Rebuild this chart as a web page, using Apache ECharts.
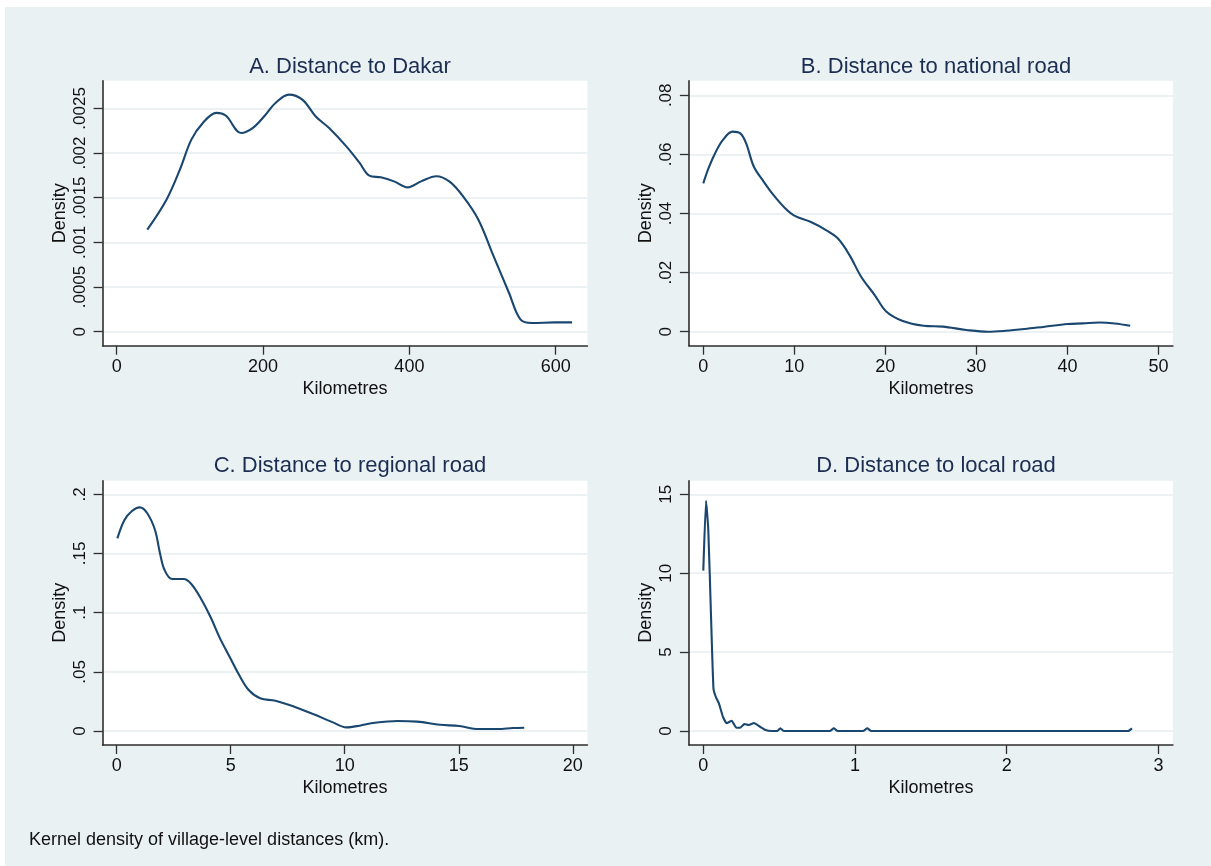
<!DOCTYPE html>
<html>
<head>
<meta charset="utf-8">
<script src="https://cdn.jsdelivr.net/npm/echarts@6/dist/echarts.min.js"></script>
<style>
  html, body { margin:0; padding:0; background:#ffffff; }
  #bg { position:absolute; left:5px; top:7px; width:1206px; height:859px; background:#EAF1F3; }
  #chart { position:absolute; left:0; top:0; width:1211px; height:866px; }
</style>
</head>
<body>
<div id="bg"></div>
<div id="chart"></div>
<script>
// ---------- Panel titles ----------
const titles = ['A. Distance to Dakar', 'B. Distance to national road', 'C. Distance to regional road', 'D. Distance to local road'];
const xAxisTitle = 'Kilometres';
const yAxisTitle = 'Density';
const caption = 'Kernel density of village-level distances (km).';

// ---------- Tick values and labels ----------
const xTicksA = [0, 200, 400, 600];
const yTicksA = [0, 0.0005, 0.001, 0.0015, 0.002, 0.0025];
const yLabelsA = ['0', '.0005', '.001', '.0015', '.002', '.0025'];
const xTicksB = [0, 10, 20, 30, 40, 50];
const yTicksB = [0, 0.02, 0.04, 0.06, 0.08];
const yLabelsB = ['0', '.02', '.04', '.06', '.08'];
const xTicksC = [0, 5, 10, 15, 20];
const yTicksC = [0, 0.05, 0.1, 0.15, 0.2];
const yLabelsC = ['0', '.05', '.1', '.15', '.2'];
const xTicksD = [0, 1, 2, 3];
const yTicksD = [0, 5, 10, 15];
const yLabelsD = ['0', '5', '10', '15'];

// ---------- Density curves ----------
const kmA = [41.8, 68, 86.3, 102, 117.7, 136, 149, 170, 185.7, 201.4, 217, 235.3, 253.7, 272, 290.3, 313.8, 332, 345.2, 361, 379, 397.6, 416, 436.8, 455, 473.4, 494.3, 515.2, 536.2, 552, 567.6, 599, 622.4];
const densA = [0.001142, 0.001478, 0.001814, 0.00215, 0.002337, 0.00245, 0.00242, 0.002225, 0.00228, 0.00241, 0.00256, 0.002654, 0.002598, 0.00241, 0.00228, 0.002075, 0.00189, 0.001747, 0.001728, 0.001683, 0.001616, 0.001683, 0.00174, 0.00168, 0.001515, 0.001254, 0.000843, 0.000433, 0.000134, 0.0000974, 0.000104, 0.000104];

const kmB = [0, 0.6, 1.3, 2.14, 3.2, 4.07, 4.7, 5.56, 6.63, 7.7, 8.99, 10.06, 11.77, 13.48, 14.77, 16.05, 17.34, 18.83, 20.1, 21.84, 24.2, 26.33, 28.9, 31.26, 33.2, 35.3, 37.5, 40.03, 41.7, 43.5, 45.2, 46.9];
const densB = [0.0502, 0.0555, 0.0604, 0.0648, 0.0677, 0.0671, 0.0638, 0.0558, 0.0508, 0.0463, 0.0418, 0.0392, 0.0372, 0.0344, 0.0316, 0.026, 0.0186, 0.0124, 0.0068, 0.0037, 0.002, 0.0017, 0.0006, 0.0, 0.0003, 0.0009, 0.0017, 0.0026, 0.0028, 0.0031, 0.0028, 0.002];

const kmC = [0.03, 0.34, 0.67, 1.01, 1.34, 1.68, 1.9, 2.1, 2.43, 2.94, 3.27, 3.69, 4.11, 4.53, 4.95, 5.37, 5.79, 6.29, 6.96, 7.79, 8.64, 9.48, 10.07, 10.65, 11.32, 12.33, 13.17, 14.18, 15.02, 15.86, 16.7, 17.37, 17.87];
const densC = [0.1628, 0.1783, 0.1859, 0.189, 0.184, 0.1698, 0.150, 0.136, 0.1284, 0.1284, 0.1242, 0.112, 0.0966, 0.0783, 0.0628, 0.0473, 0.0346, 0.0276, 0.0256, 0.0205, 0.0141, 0.0073, 0.0031, 0.0045, 0.007, 0.0085, 0.0079, 0.0053, 0.0042, 0.0017, 0.0017, 0.0025, 0.0028];

const kmD = [0.0, 0.018, 0.033, 0.051, 0.067, 0.082, 0.103, 0.129, 0.154, 0.187, 0.218, 0.244, 0.27, 0.30, 0.334, 0.374, 0.41, 0.45, 0.488, 0.508, 0.53, 0.834, 0.86, 0.886, 1.053, 1.081, 1.107, 2.80, 2.826];
const densD = [10.16, 14.58, 12.74, 7.24, 2.7, 2.17, 1.75, 0.91, 0.49, 0.65, 0.21, 0.21, 0.44, 0.38, 0.51, 0.27, 0.06, 0.0, 0.0, 0.17, 0.0, 0.0, 0.17, 0.0, 0.0, 0.17, 0.0, 0.0, 0.17];

// ---------- Layout ----------
const FONT = '"Liberation Sans", Arial, Helvetica, sans-serif';
const LINE = '#1a476f';
const AXIS = '#2e2e2e';
const GRIDLINE = '#E6EEF0';

const panels = [
  { grid: { left: 102.6, top: 80.7, width: 484.8, height: 265 }, xmin: -19.3, xmax: 643.3, ymin: -0.000157, ymax: 0.00281, xt: xTicksA, yt: yTicksA, yl: yLabelsA, xs: kmA, ys: densA, smooth: 0.35 },
  { grid: { left: 688.9, top: 80.7, width: 484, height: 265 }, xmin: -1.58, xmax: 51.59, ymin: -0.00474, ymax: 0.08494, xt: xTicksB, yt: yTicksB, yl: yLabelsB, xs: kmB, ys: densB, smooth: 0.35 },
  { grid: { left: 102.6, top: 480.7, width: 484.8, height: 264.3 }, xmin: -0.618, xmax: 20.64, ymin: -0.01183, ymax: 0.2115, xt: xTicksC, yt: yTicksC, yl: yLabelsC, xs: kmC, ys: densC, smooth: 0.35 },
  { grid: { left: 688.9, top: 480.7, width: 484, height: 264.3 }, xmin: -0.0949, xmax: 3.0956, ymin: -0.887, ymax: 15.86, xt: xTicksD, yt: yTicksD, yl: yLabelsD, xs: kmD, ys: densD, smooth: 0.15 }
];
const titlePos = [[345, 51], [931, 51], [345, 450], [931, 450]];

const option = {
  animation: false,
  backgroundColor: 'transparent',
  title: titles.map((t, i) => ({
    text: t, left: titlePos[i][0], top: titlePos[i][1], textAlign: 'center',
    textStyle: { fontFamily: FONT, fontSize: 22, fontWeight: 'normal', color: '#1c2d52' }
  })).concat([{
    text: caption, left: 24, top: 826,
    textStyle: { fontFamily: FONT, fontSize: 18, fontWeight: 'normal', color: '#111' }
  }]),
  grid: panels.map(p => Object.assign({ show: true, backgroundColor: '#ffffff', borderWidth: 0, containLabel: false }, p.grid)),
  xAxis: panels.map((p, i) => ({
    type: 'value', gridIndex: i, min: p.xmin, max: p.xmax,
    name: xAxisTitle, nameLocation: 'middle', nameGap: 34,
    nameTextStyle: { fontFamily: FONT, fontSize: 18, color: '#111' },
    axisLine: { show: true, onZero: false, lineStyle: { color: AXIS, width: 1.6 } },
    axisTick: { show: true, length: 9, customValues: p.xt, lineStyle: { color: AXIS, width: 1.3 } },
    axisLabel: { customValues: p.xt, margin: 12, fontFamily: FONT, fontSize: 18, color: '#111' },
    splitLine: { show: false }
  })),
  yAxis: panels.map((p, i) => ({
    type: 'value', gridIndex: i, min: p.ymin, max: p.ymax,
    name: yAxisTitle, nameLocation: 'middle', nameGap: 34, nameRotate: 90,
    nameTextStyle: { fontFamily: FONT, fontSize: 18, color: '#111' },
    axisLine: { show: true, onZero: false, lineStyle: { color: AXIS, width: 1.6 } },
    axisTick: { show: true, length: 9, customValues: p.yt, lineStyle: { color: AXIS, width: 1.3 } },
    axisLabel: {
      customValues: p.yt, rotate: 90, margin: 14, fontFamily: FONT, fontSize: 17, color: '#111',
      formatter: v => { let k = 0; let best = Infinity; p.yt.forEach((t, j) => { const d = Math.abs(t - v); if (d < best) { best = d; k = j; } }); return p.yl[k]; }
    },
    splitLine: { show: true, lineStyle: { color: GRIDLINE, width: 1.5 } }
  })),
  series: panels.map((p, i) => ({
    type: 'line', xAxisIndex: i, yAxisIndex: i,
    data: p.xs.map((x, j) => [x, p.ys[j]]),
    showSymbol: false, smooth: p.smooth,
    lineStyle: { color: LINE, width: 2.1 },
    silent: true
  }))
};

const chart = echarts.init(document.getElementById('chart'), null, { renderer: 'canvas' });
chart.setOption(option);
</script>
</body>
</html>
